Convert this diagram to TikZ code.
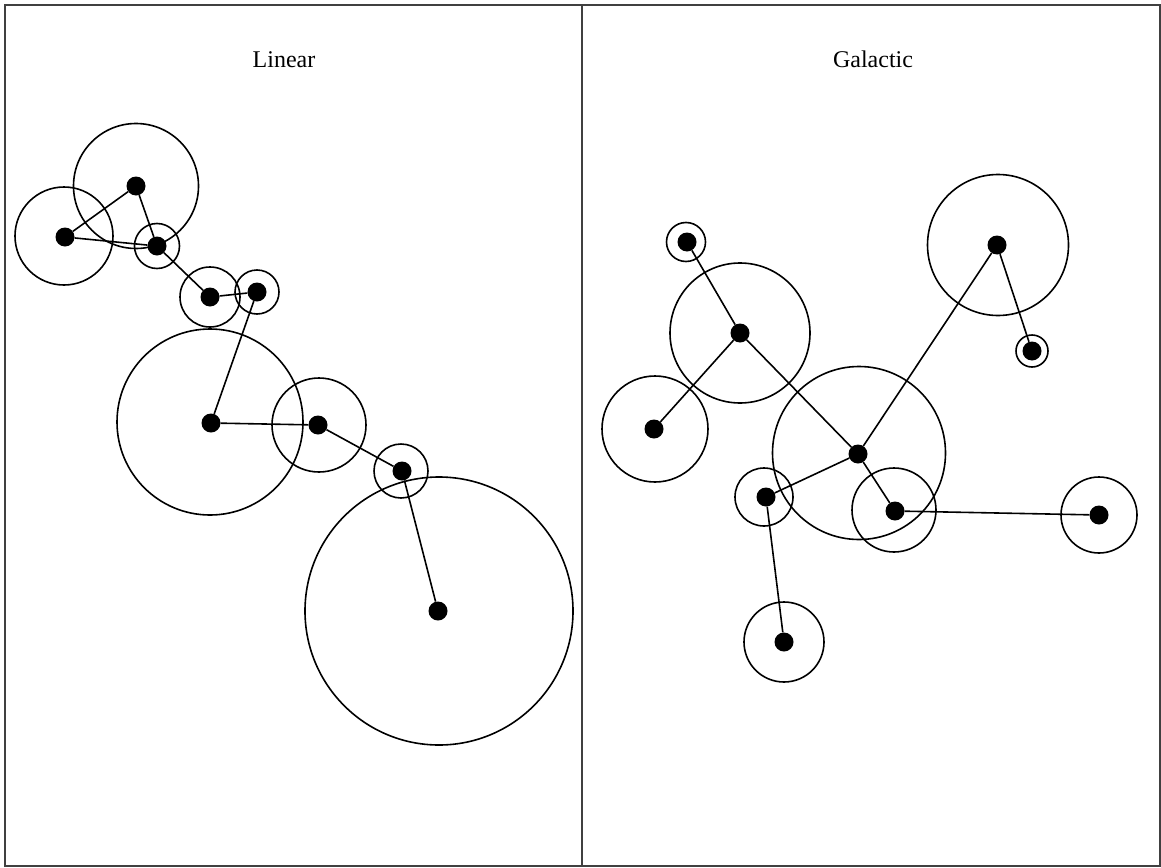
\documentclass[tikz,border=0pt]{standalone}
\usepackage{fontspec}
\setmainfont{Liberation Serif}
\usetikzlibrary{positioning}

\begin{document}
\begin{tikzpicture}[x=1pt, y=-1pt,
    ring/.style={draw, circle, line width=1.6pt, inner sep=0pt},
    dot/.style={fill, circle, inner sep=0pt, minimum size=19pt},
    link/.style={line width=1.6pt},
    title/.style={anchor=base, font=\fontsize{24}{28}\selectfont}]
  \useasboundingbox (0,0) rectangle (1161,867);
  % frame
  \draw[line width=2.2pt, black!75] (5,5) rectangle (1160,866);
  \draw[line width=2.2pt, black!75] (582,5) -- (582,866);

  \node[title] (tlin) at (284,67) {Linear};
  \node[title] (tgal) at (873,67) {Galactic};

  % linear
  \node[ring, minimum size=98pt]  (rA) at (64,236) {};
  \node[ring, minimum size=125pt] (rB) at (136,186) {};
  \node[ring, minimum size=45pt]  (rC) at (157,246) {};
  \node[ring, minimum size=60pt]  (rD) at (210,297) {};
  \node[ring, minimum size=44pt]  (rE) at (257,292) {};
  \node[ring, minimum size=186pt] (rF) at (210,422) {};
  \node[ring, minimum size=94pt]  (rG) at (319,425) {};
  \node[ring, minimum size=54pt]  (rH) at (401,471) {};
  \node[ring, minimum size=268pt] (rI) at (439,611) {};

  \node[dot] (A) at (65,237) {};
  \node[dot] (B) at (136,186) {};
  \node[dot] (C) at (157,246) {};
  \node[dot] (D) at (210,297) {};
  \node[dot] (E) at (257,292) {};
  \node[dot] (F) at (211,423) {};
  \node[dot] (G) at (318,425) {};
  \node[dot] (H) at (402,471) {};
  \node[dot] (I) at (438,611) {};

  \draw[link] (A) -- (B);
  \draw[link] (A) -- (C);
  \draw[link] (B) -- (C);
  \draw[link] (C) -- (D);
  \draw[link] (D) -- (E);
  \draw[link] (E) -- (F);
  \draw[link] (F) -- (G);
  \draw[link] (G) -- (H);
  \draw[link] (H) -- (I);

  % galactic
  \node[ring, minimum size=39pt]  (ra) at (686,242) {};
  \node[ring, minimum size=140pt] (rb) at (740,333) {};
  \node[ring, minimum size=106pt] (rc) at (655,429) {};
  \node[ring, minimum size=173pt] (rd) at (859,453) {};
  \node[ring, minimum size=141pt] (re) at (998,245) {};
  \node[ring, minimum size=32pt]  (rf) at (1032,351) {};
  \node[ring, minimum size=58pt]  (rg) at (764,497) {};
  \node[ring, minimum size=84pt]  (rh) at (894,510) {};
  \node[ring, minimum size=76pt]  (ri) at (1099,515) {};
  \node[ring, minimum size=80pt]  (rj) at (784,642) {};

  \node[dot] (a) at (687,242) {};
  \node[dot] (b) at (740,333) {};
  \node[dot] (c) at (654,429) {};
  \node[dot] (d) at (858,454) {};
  \node[dot] (e) at (997,245) {};
  \node[dot] (f) at (1032,351) {};
  \node[dot] (g) at (766,497) {};
  \node[dot] (h) at (895,511) {};
  \node[dot] (i) at (1099,515) {};
  \node[dot] (j) at (784,642) {};

  \draw[link] (a) -- (b);
  \draw[link] (b) -- (c);
  \draw[link] (b) -- (d);
  \draw[link] (d) -- (e);
  \draw[link] (e) -- (f);
  \draw[link] (d) -- (g);
  \draw[link] (d) -- (h);
  \draw[link] (h) -- (i);
  \draw[link] (g) -- (j);
\end{tikzpicture}
\end{document}
